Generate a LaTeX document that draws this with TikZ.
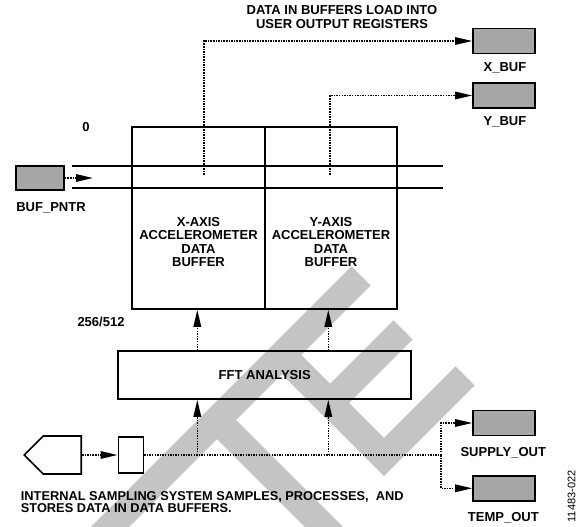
\documentclass[tikz,border=0pt]{standalone}
\usepackage{fontspec}
\setmainfont{Liberation Sans}
\usetikzlibrary{arrows.meta,positioning,calc,shapes.symbols}
\definecolor{RegGray}{HTML}{A6A6A6}
\definecolor{Mark}{HTML}{C4C4C4}
\newcommand{\lblfont}{\fontsize{13}{13.3}\selectfont\bfseries}
\tikzset{
 blk/.style={draw, line width=1.6pt, inner sep=0pt},
 register/.style={blk, fill=RegGray, minimum width=62pt, minimum height=25pt},
 lbl/.style={font=\lblfont, inner sep=0pt},
 track/.style={line width=1.8pt},
 flowline/.style={line width=1.6pt, dash pattern=on 1.5pt off 1.1pt},
 flow/.style={flowline, -{Triangle[length=17pt,width=7.5pt]}},
 wmark/.style={draw=Mark, line width=27pt, line join=miter}
}

\begin{document}
\begin{tikzpicture}[x=1pt,y=-1pt]
\useasboundingbox (0,0) rectangle (582,527);
% watermark
\begin{scope}
\clip (0,0) rectangle (582,527);
\draw[wmark] (361,276) -- (95,542);
\draw[wmark] (217,420) -- (335,538);
\draw[wmark] (282,355) -- (384,457) -- (465,376);
\draw[wmark] (282,355) -- (330,403) -- (403,330);
\end{scope}

% data buffers
\node[blk, minimum width=133pt, minimum height=182pt] (xbuf) at (198.5,218) {};
\node[blk, minimum width=132pt, minimum height=182pt] (ybuf) at (331,218) {};
\node[lbl, align=center] (xtxt) at (198.5,242) {X-AXIS\\ACCELEROMETER\\DATA\\BUFFER};
\node[lbl, align=center] (ytxt) at (331,242) {Y-AXIS\\ACCELEROMETER\\DATA\\BUFFER};
\draw[track] (72,166) -- (443,166);
\draw[track] (72,188) -- (443,188);
\node[lbl, anchor=base] (top) at (86,131.7) {0};
\node[lbl, anchor=base] (bottom) at (101,326.7) {256/512};

% registers
\node[register, minimum width=48pt, minimum height=24pt] (ptr) at (40,178) {};
\node[register] (xreg) at (504,41) {};
\node[register] (yreg) at (504,95.5) {};
\node[register] (supply) at (504,423) {};
\node[register] (temp) at (504,488.3) {};
\node[lbl, anchor=base] (ptrlbl) at (51,211.7) {BUF\_PNTR};
\node[lbl, anchor=base] (xlbl) at (505,71.3) {X\_BUF};
\node[lbl, anchor=base] (ylbl) at (505,125.3) {Y\_BUF};
\node[lbl, anchor=base] (supplylbl) at (503.3,456.3) {SUPPLY\_OUT};
\node[lbl, anchor=base] (templbl) at (503.3,521.3) {TEMP\_OUT};

% sampling and fft
\node[blk, minimum width=293pt, minimum height=48pt, font=\lblfont] (fft) at (264.7,375) {FFT ANALYSIS};
\node[blk, minimum width=25pt, minimum height=36pt] (samp) at (130.8,455) {};
\node[blk, signal, signal to=west, signal pointer angle=90, minimum width=57pt, minimum height=38pt, anchor=east] (src) at (82,455) {};

% connectors
\coordinate (ptrtip) at (93,178);
\coordinate (xsrc) at (204,175);
\coordinate (ysrc) at (330,175);
\coordinate (colA) at (197.3,0);
\coordinate (colB) at (328.3,0);
\coordinate (busR) at (441,455);
\draw[flow] (ptr.east) -- (ptrtip);
\draw[flow] (xsrc) |- (xreg.west);
\draw[flow] (ysrc) |- (yreg.west);
\draw[flow] (colA |- fft.north) -- (colA |- xbuf.south);
\draw[flow] (colB |- fft.north) -- (colB |- ybuf.south);
\draw[flow] (src.east) -- (samp.west);
\draw[flowline] (samp.east) -- (busR);
\draw[flow] (colA |- busR) -- (colA |- fft.south);
\draw[flow] (colB |- busR) -- (colB |- fft.south);
\draw[flow] (busR) |- (supply.west);
\draw[flow] (busR) |- (temp.west);

% texts
\node[lbl, align=center, font=\fontsize{13}{14}\selectfont\bfseries] (title) at (342,17) {DATA IN BUFFERS LOAD INTO\\USER OUTPUT REGISTERS};
\node[lbl, align=left, anchor=west, font={\fontsize{12.8}{12}\selectfont\bfseries}] (note) at (20.7,502) {INTERNAL SAMPLING SYSTEM SAMPLES, PROCESSES,\ \ AND\\STORES DATA IN DATA BUFFERS.};
\node[font=\fontsize{11}{11}\selectfont, rotate=90, inner sep=0pt] (figno) at (571.7,496.5) {11483-022};
\end{tikzpicture}
\end{document}
